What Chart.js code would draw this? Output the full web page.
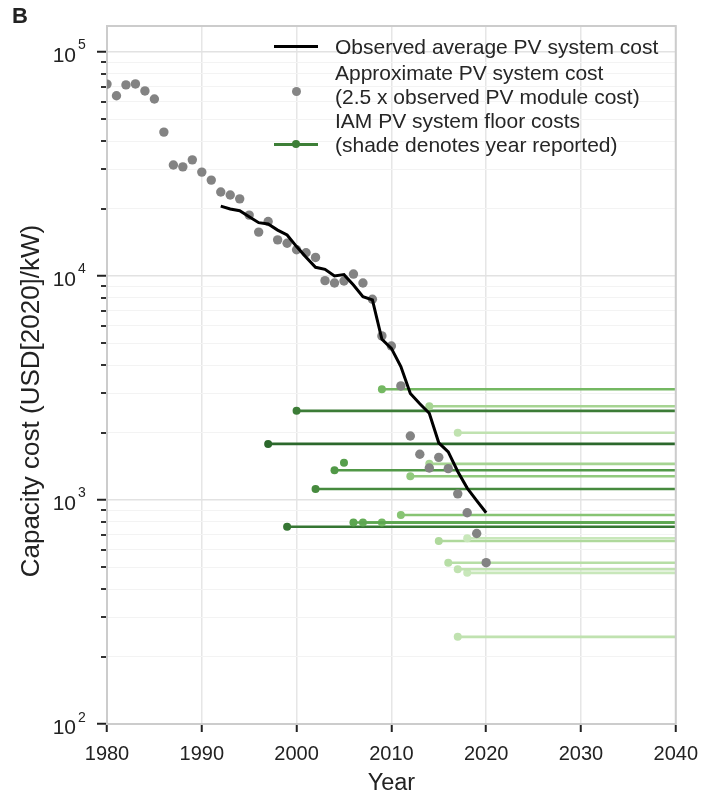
<!DOCTYPE html>
<html>
<head>
<meta charset="utf-8">
<script src="https://cdn.jsdelivr.net/npm/chart.js@4.4.0/dist/chart.umd.min.js"></script>
<style>
  body { margin: 0; background: #fff; }
  #wrap { position: relative; width: 708px; height: 797px; font-family: "Liberation Sans", Arial, sans-serif; color: #222; }
  #panel { position: absolute; left: 12px; top: 3px; font-weight: bold; font-size: 22px; }
  #ytitle { position: absolute; left: 30px; top: 401px; transform: translate(-50%, -50%) rotate(-90deg);
    font-size: 26px; white-space: nowrap; color: #222; }
  .lg { position: absolute; left: 335px; font-size: 21px; line-height: 23.5px; white-space: nowrap; color: #262626; }
  .mk { position: absolute; }
</style>
</head>
<body>
<div id="wrap">
  <canvas id="chart" width="708" height="797"></canvas>
  <div id="panel">B</div>
  <div id="ytitle">Capacity cost (USD[2020]/kW)</div>
  <!-- legend -->
  <div class="mk" style="left:274px;top:45px;width:44px;height:3px;background:#000"></div>
  <div class="lg" style="top:35px">Observed average PV system cost</div>
  <div class="mk" style="left:291.5px;top:87px;width:9px;height:9px;border-radius:50%;background:#858585"></div>
  <div class="lg" style="top:61px">Approximate PV system cost<br>(2.5 x observed PV module cost)</div>
  <div class="mk" style="left:274px;top:143px;width:44px;height:2.5px;background:#3d7f37"></div>
  <div class="mk" style="left:292px;top:140px;width:8px;height:8px;border-radius:50%;background:#3d7f37"></div>
  <div class="lg" style="top:109px">IAM PV system floor costs<br>(shade denotes year reported)</div>
</div>
<script>
// grey dots: 2.5 x module cost
const moduleYears = [1980, 1981, 1982, 1983, 1984, 1985, 1986, 1987, 1988, 1989,
  1990, 1991, 1992, 1993, 1994, 1995, 1996, 1997, 1998, 1999,
  2000, 2001, 2002, 2003, 2004, 2005, 2006, 2007, 2008, 2009,
  2010, 2011, 2012, 2013, 2014, 2015, 2016, 2017, 2018, 2019, 2020];
const moduleCost = [71900, 63800, 71300, 72000, 67000, 61700, 43900, 31300, 30700, 33000,
  29100, 26800, 23700, 23000, 22100, 18700, 15700, 17500, 14500, 14000,
  13100, 12700, 12100, 9530, 9300, 9500, 10200, 9300, 7870, 5400,
  4870, 3230, 1930, 1600, 1390, 1550, 1380, 1065, 877, 709, 525];

// black line: observed system cost
const observedYears = [1992, 1993, 1994, 1995, 1996, 1997, 1998, 1999, 2000, 2001,
  2002, 2003, 2004, 2005, 2006, 2007, 2008, 2009, 2010, 2011,
  2012, 2013, 2014, 2015, 2016, 2017, 2018, 2019, 2020];
const observedCost = [20500, 19900, 19550, 18400, 17300, 17060, 16030, 15240, 13530, 12120,
  10930, 10710, 10000, 10140, 9120, 8090, 7830, 5220, 4750, 3940,
  2990, 2690, 2440, 1800, 1640, 1340, 1130, 993, 877];

// green lines: IAM floor costs (year reported -> floor value)
const floorStart = [2009, 2014, 2000, 2017, 1997, 2005, 2014, 2004, 2012, 2002, 2011,
  2006, 2007, 2009, 1999, 2018, 2015, 2016, 2017, 2018, 2017];
const floorCost = [3120, 2620, 2500, 1996, 1780, 1466, 1450, 1357, 1276, 1120, 857,
  793, 793, 793, 760, 675, 656, 525, 491, 473, 245];
const floorEnd = [2040, 2040, 2040, 2040, 2040, 2005, 2040, 2040, 2040, 2040, 2040,
  2040, 2040, 2040, 2040, 2040, 2040, 2040, 2040, 2040, 2040];

const xTicks = [1980, 1990, 2000, 2010, 2020, 2030, 2040];
const yExponents = [2, 3, 4, 5];

// older reports darker, newer lighter
function shade(year) {
  const stops = [[1997, [44, 104, 44]], [2002, [70, 138, 62]], [2006, [92, 166, 80]],
    [2010, [124, 190, 104]], [2014, [166, 212, 146]], [2018, [200, 231, 186]]];
  if (year <= stops[0][0]) return 'rgb(' + stops[0][1].join(',') + ')';
  for (let i = 1; i < stops.length; i++) {
    if (year <= stops[i][0]) {
      const t = (year - stops[i - 1][0]) / (stops[i][0] - stops[i - 1][0]);
      const c = stops[i - 1][1].map((a, k) => Math.round(a + (stops[i][1][k] - a) * t));
      return 'rgb(' + c.join(',') + ')';
    }
  }
  return 'rgb(' + stops[stops.length - 1][1].join(',') + ')';
}

function isMajor(v) {
  const e = Math.log10(v);
  return Math.abs(e - Math.round(e)) < 1e-9;
}

const datasets = [];
datasets.push({
  data: observedYears.map((x, i) => ({ x: x, y: observedCost[i] })),
  borderColor: '#000', borderWidth: 3, pointRadius: 0, order: 0
});
datasets.push({
  data: moduleYears.map((x, i) => ({ x: x, y: moduleCost[i] })),
  showLine: false, pointRadius: 4.7, pointBackgroundColor: '#838383', pointBorderWidth: 0, order: 1
});
floorStart.forEach((s, i) => {
  const c = shade(s);
  const pts = [{ x: s, y: floorCost[i] }];
  if (floorEnd[i] > s) pts.push({ x: floorEnd[i], y: floorCost[i] });
  datasets.push({
    data: pts, borderColor: c, borderWidth: 2.6,
    pointRadius: [4, 0], pointBackgroundColor: c, pointBorderWidth: 0,
    order: 2 + i
  });
});

const frame = {
  id: 'frame',
  afterDraw(chart) {
    const { ctx, chartArea: a } = chart;
    const y = chart.scales.y;
    ctx.save();
    // minor ticks on the log axis
    ctx.strokeStyle = '#333';
    ctx.lineWidth = 2;
    y.ticks.forEach(t => {
      if (isMajor(t.value)) return;
      const py = Math.round(y.getPixelForValue(t.value));
      ctx.beginPath();
      ctx.moveTo(a.left - 6, py);
      ctx.lineTo(a.left - 1, py);
      ctx.stroke();
    });
    // 10^n labels with raised exponent
    ctx.fillStyle = '#222';
    ctx.textBaseline = 'alphabetic';
    yExponents.forEach(e => {
      const py = y.getPixelForValue(Math.pow(10, e));
      ctx.font = '21px "Liberation Sans", Arial, sans-serif';
      ctx.textAlign = 'right';
      ctx.fillText('10', 76, py + 10);
      ctx.font = '14px "Liberation Sans", Arial, sans-serif';
      ctx.textAlign = 'left';
      ctx.fillText(String(e), 78, py - 2.5);
    });
    // top and right spines
    ctx.strokeStyle = '#cccccc';
    ctx.beginPath();
    ctx.moveTo(a.left, a.top);
    ctx.lineTo(a.right, a.top);
    ctx.lineTo(a.right, a.bottom);
    ctx.stroke();
    ctx.restore();
  }
};

new Chart(document.getElementById('chart'), {
  type: 'line',
  data: { datasets: datasets },
  options: {
    responsive: false,
    devicePixelRatio: 1,
    animation: false,
    layout: { padding: { top: 26, right: 31, left: 0, bottom: 0 } },
    plugins: { legend: { display: false }, tooltip: { enabled: false } },
    scales: {
      x: {
        type: 'linear', min: 1980, max: 2040,
        afterBuildTicks: s => { s.ticks = xTicks.map(v => ({ value: v })); },
        afterFit: s => { s.height = 73; },
        ticks: { callback: v => String(v), font: { family: 'Liberation Sans', size: 20 }, color: '#222', padding: 10, maxRotation: 0 },
        grid: { color: '#e6e6e6', lineWidth: 1.5, tickColor: '#222', tickWidth: 2, tickLength: 8 },
        border: { color: '#cccccc', width: 2 },
        title: { display: true, text: 'Year', font: { family: 'Liberation Sans', size: 23.5 }, color: '#222', padding: { top: 0, bottom: -1 } }
      },
      y: {
        type: 'logarithmic', min: 100, max: 130620,
        afterBuildTicks: s => {
          const t = [];
          yExponents.forEach(e => {
            for (let m = 1; m <= 9; m++) {
              const v = m * Math.pow(10, e);
              if (v <= 130620) t.push({ value: v });
            }
          });
          s.ticks = t;
        },
        afterFit: s => { s.width = 107; },
        ticks: { autoSkip: false, callback: () => '', padding: 8 },
        grid: {
          color: c => isMajor(c.tick.value) ? '#e2e2e2' : '#f3f3f3',
          lineWidth: c => isMajor(c.tick.value) ? 1.5 : 1,
          tickColor: c => isMajor(c.tick.value) ? '#222' : 'rgba(0,0,0,0)',
          tickWidth: 2, tickLength: 10
        },
        border: { color: '#cccccc', width: 2 }
      }
    }
  },
  plugins: [frame]
});
</script>
</body>
</html>
